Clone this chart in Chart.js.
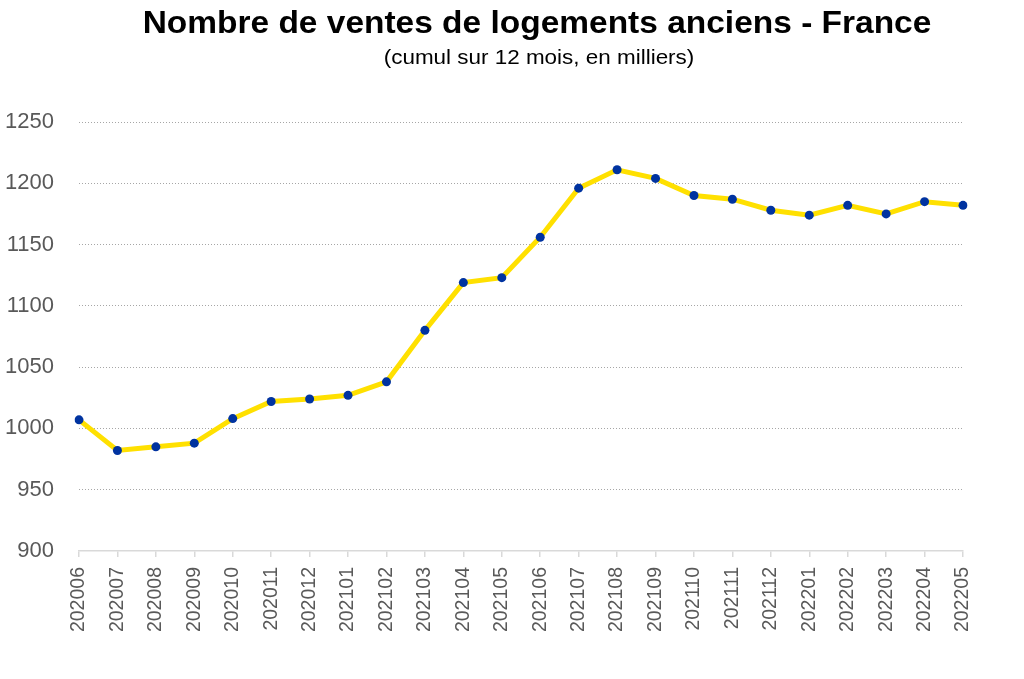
<!DOCTYPE html>
<html>
<head>
<meta charset="utf-8">
<script src="https://cdn.jsdelivr.net/npm/chart.js@4/dist/chart.umd.min.js"></script>
<style>
  html, body { margin: 0; padding: 0; background: #fff; }
  #wrap { position: relative; width: 1024px; height: 679px; overflow: hidden; }
  #title { position: absolute; left: 0; width: 1074px; top: 4px; text-align: center; line-height: 1.15;
    font-family: "Liberation Sans", Arial, sans-serif; font-weight: bold; font-size: 32px; color: #000;
    transform: scaleX(1.046); transform-origin: 537px 0; }
  #subtitle { position: absolute; left: 0; width: 1078px; top: 45px; text-align: center; line-height: 1.15;
    font-family: "Liberation Sans", Arial, sans-serif; font-size: 20.5px; color: #000;
    transform: scaleX(1.095); transform-origin: 539px 0; }
  #c { position: absolute; left: 0; top: 0; }
</style>
</head>
<body>
<div id="wrap">
  <canvas id="c" width="1024" height="679"></canvas>
  <div id="title">Nombre de ventes de logements anciens - France</div>
  <div id="subtitle">(cumul sur 12 mois, en milliers)</div>
</div>
<script>
const categories = ["202006","202007","202008","202009","202010","202011","202012",
  "202101","202102","202103","202104","202105","202106","202107","202108","202109",
  "202110","202111","202112","202201","202202","202203","202204","202205"];
const ventes = [1007, 982, 985, 988, 1008, 1022, 1024, 1027, 1038, 1080, 1119, 1123,
  1156, 1196, 1211, 1204, 1190, 1187, 1178, 1174, 1182, 1175, 1185, 1182];
const yMin = 900, yMax = 1250, yStep = 50;

new Chart(document.getElementById('c'), {
  type: 'line',
  data: {
    labels: categories,
    datasets: [{
      data: ventes,
      borderColor: '#FFE000',
      borderWidth: 5,
      pointBackgroundColor: '#0033A0',
      pointBorderColor: '#0033A0',
      pointRadius: 4.5,
      pointBorderWidth: 0,
      tension: 0,
      fill: false
    }]
  },
  options: {
    responsive: false,
    animation: false,
    devicePixelRatio: 1,
    layout: { padding: { top: 122, right: 61, left: 0, bottom: 0 } },
    plugins: { legend: { display: false }, title: { display: false }, tooltip: { enabled: false } },
    scales: {
      x: {
        offset: false,
        grid: { drawOnChartArea: false, drawTicks: true, tickLength: 6, color: '#d9d9d9', lineWidth: 1.5 },
        border: { display: true, color: '#d9d9d9', width: 1.5 },
        ticks: { autoSkip: false, maxRotation: 90, minRotation: 90, padding: 10,
          color: '#595959', font: { family: '"Liberation Sans", Arial, sans-serif', size: 19.5 } },
        afterFit: s => { s.height = 128; }
      },
      y: {
        min: yMin, max: yMax,
        grid: { drawTicks: false, color: ctx => ctx.tick && ctx.tick.value === yMin ? 'rgba(0,0,0,0)' : '#a6a6a6', lineWidth: 1 },
        border: { display: false, dash: [1, 2] },
        ticks: { stepSize: yStep, padding: 25, color: '#595959',
          callback: v => String(v),
          font: { family: '"Liberation Sans", Arial, sans-serif', size: 22 } },
        afterFit: s => { s.width = 79; }
      }
    }
  }
});
</script>
</body>
</html>
